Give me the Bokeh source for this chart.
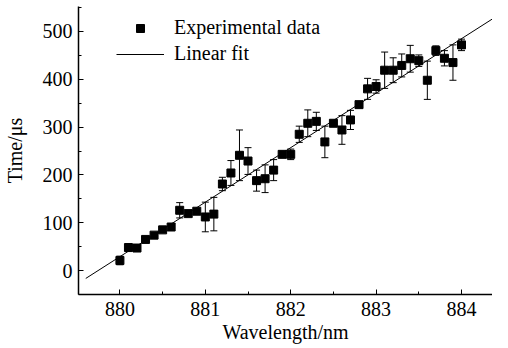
from bokeh.plotting import figure
from bokeh.models import (ColumnDataSource, Whisker, TeeHead, Legend, LegendItem,
                          Range1d, FixedTicker)
from bokeh.embed import file_html
from bokeh.resources import INLINE

# ---- data ----
wavelength = [880.0, 880.1, 880.2, 880.3, 880.4, 880.5, 880.6, 880.7, 880.8, 880.9,
              881.0, 881.1, 881.2, 881.3, 881.4, 881.5, 881.6, 881.7, 881.8, 881.9,
              882.0, 882.1, 882.2, 882.3, 882.4, 882.5, 882.6, 882.7, 882.8, 882.9,
              883.0, 883.1, 883.2, 883.3, 883.4, 883.5, 883.6, 883.7, 883.8, 883.9,
              884.0]
time_us = [21, 48, 47, 65, 74, 85, 91, 126, 119, 124,
           112, 118, 181, 204, 241, 229, 188, 192, 210, 243,
           243, 285, 308, 312, 269, 308, 294, 315, 347, 380,
           385, 419, 419, 429, 443, 439, 398, 460, 444, 435,
           472]
time_err = [9, 8, 4, 4, 3, 3, 4, 16, 3, 4,
            31, 35, 14, 26, 53, 28, 22, 29, 22, 3,
            11, 17, 28, 19, 33, 3, 30, 20, 3, 22,
            14, 38, 26, 24, 28, 12, 40, 10, 16, 37,
            12]
fit_slope = 114.0        # us per nm
fit_intercept = 29.0     # value at 880 nm
fit_x = [879.6, 884.4]
x_ticks = [880, 881, 882, 883, 884]
y_ticks = [0, 100, 200, 300, 400, 500]

FONT = "Liberation Serif"
FS = "20px"

src = ColumnDataSource(dict(
    x=wavelength, y=time_us,
    lo=[v - e for v, e in zip(time_us, time_err)],
    hi=[v + e for v, e in zip(time_us, time_err)],
))
fit_src = ColumnDataSource(dict(
    x=fit_x, y=[fit_intercept + fit_slope * (xx - 880.0) for xx in fit_x]))

p = figure(width=492, height=347, output_backend="svg", toolbar_location=None,
           x_range=Range1d(879.515, 884.363), y_range=Range1d(-50.2, 552.3),
           min_border_left=69, min_border_right=0, min_border_top=6,
           min_border_bottom=53)
p.outline_line_color = None
p.grid.visible = False
p.background_fill_color = "white"
p.border_fill_color = "white"

fit_r = p.line("x", "y", source=fit_src, line_color="black", line_width=1)
wh = Whisker(base="x", upper="hi", lower="lo", source=src,
             line_color="black", line_width=1,
             upper_head=TeeHead(size=7, line_color="black", line_width=1),
             lower_head=TeeHead(size=7, line_color="black", line_width=1))
p.add_layout(wh)
pts = p.scatter("x", "y", source=src, marker="square", size=8,
                fill_color="black", line_color="black")

for ax, ticks in ((p.xaxis, x_ticks), (p.yaxis, y_ticks)):
    step = ticks[1] - ticks[0]
    ax.ticker = FixedTicker(ticks=ticks,
                            minor_ticks=[t - step / 2 for t in ticks] + [ticks[-1] + step / 2])
    ax.major_tick_in = 5
    ax.major_tick_out = 0
    ax.minor_tick_in = 3
    ax.minor_tick_out = 0
    ax.axis_line_color = "black"
    ax.axis_line_width = 1.5
    ax.major_tick_line_color = "black"
    ax.minor_tick_line_color = "black"
    ax.major_label_text_font = FONT
    ax.major_label_text_font_size = FS
    ax.major_label_text_color = "black"
    ax.axis_label_text_font = FONT
    ax.axis_label_text_font_size = FS
    ax.axis_label_text_font_style = "normal"
    ax.axis_label_text_color = "black"

p.xaxis.axis_label = "Wavelength/nm"
p.yaxis.axis_label = "Time/\u03bcs"
p.xaxis.major_label_standoff = 7
p.yaxis.major_label_standoff = 6
p.xaxis.axis_label_standoff = 2
p.yaxis.axis_label_standoff = 14

legend = Legend(items=[LegendItem(label="Experimental data", renderers=[pts]),
                       LegendItem(label="Linear fit", renderers=[fit_r])],
                location=(38, 229), orientation="vertical",
                padding=0, margin=0, spacing=3,
                glyph_width=48, glyph_height=20, label_height=20,
                label_standoff=10,
                label_text_font=FONT, label_text_font_size=FS,
                label_text_color="black",
                border_line_color=None, background_fill_alpha=0)
p.add_layout(legend)

open("out.html", "w").write(file_html(p, INLINE))
